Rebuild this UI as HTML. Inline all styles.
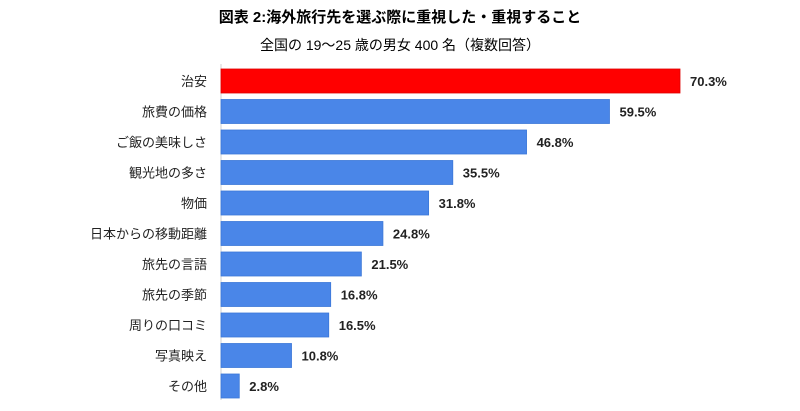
<!DOCTYPE html>
<html><head><meta charset="utf-8"><style>
body{margin:0;background:#fff;}
svg{display:block;font-family:"Liberation Sans","Noto Sans CJK JP",sans-serif;}
</style></head><body>
<svg id="chart" width="800" height="411">
<text x="400" y="22" text-anchor="middle" font-size="15" font-weight="bold" fill="#000">図表 2:海外旅行先を選ぶ際に重視した・重視すること</text>
<text x="400" y="50" text-anchor="middle" font-size="14" fill="#000">全国の 19～25 歳の男女 400 名（複数回答）</text>
<line x1="221" y1="64" x2="221" y2="400" stroke="#d0d0d0"/>
<g id="bars"></g>
</svg>
<script>
const categories=["治安","旅費の価格","ご飯の美味しさ","観光地の多さ","物価","日本からの移動距離","旅先の言語","旅先の季節","周りの口コミ","写真映え","その他"];
const values=[70.3,59.5,46.8,35.5,31.8,24.8,21.5,16.8,16.5,10.8,2.8];
const labels=["70.3%","59.5%","46.8%","35.5%","31.8%","24.8%","21.5%","16.8%","16.5%","10.8%","2.8%"];
const NS="http://www.w3.org/2000/svg";
const x0=221, scale=459/70.3, y0=69, step=30.5, bh=24;
const xf=v=>x0+v*scale, yf=i=>y0+i*step;
const g=document.getElementById("bars");
categories.forEach((c,i)=>{
  const r=document.createElementNS(NS,"rect");
  r.setAttribute("x",x0);r.setAttribute("y",yf(i));
  r.setAttribute("width",xf(values[i])-x0);r.setAttribute("height",bh);
  r.setAttribute("fill",i===0?"#ff0000":"#4a86e8");
  r.setAttribute("stroke",i===0?"#e00000":"#3c78d8");r.setAttribute("stroke-width","0.8");
  
  
  g.appendChild(r);
  const t=document.createElementNS(NS,"text");
  t.setAttribute("x",207);t.setAttribute("y",yf(i)+bh/2+5);
  t.setAttribute("text-anchor","end");t.setAttribute("font-size","13");t.setAttribute("fill","#222");
  t.textContent=c;
  
  
  g.appendChild(t);
  const v=document.createElementNS(NS,"text");
  v.setAttribute("x",xf(values[i])+10);v.setAttribute("y",yf(i)+bh/2+5);
  v.setAttribute("font-size","13");v.setAttribute("font-weight","bold");v.setAttribute("fill","#222");
  v.textContent=labels[i];
  
  
  g.appendChild(v);
});
</script>
</body></html>
